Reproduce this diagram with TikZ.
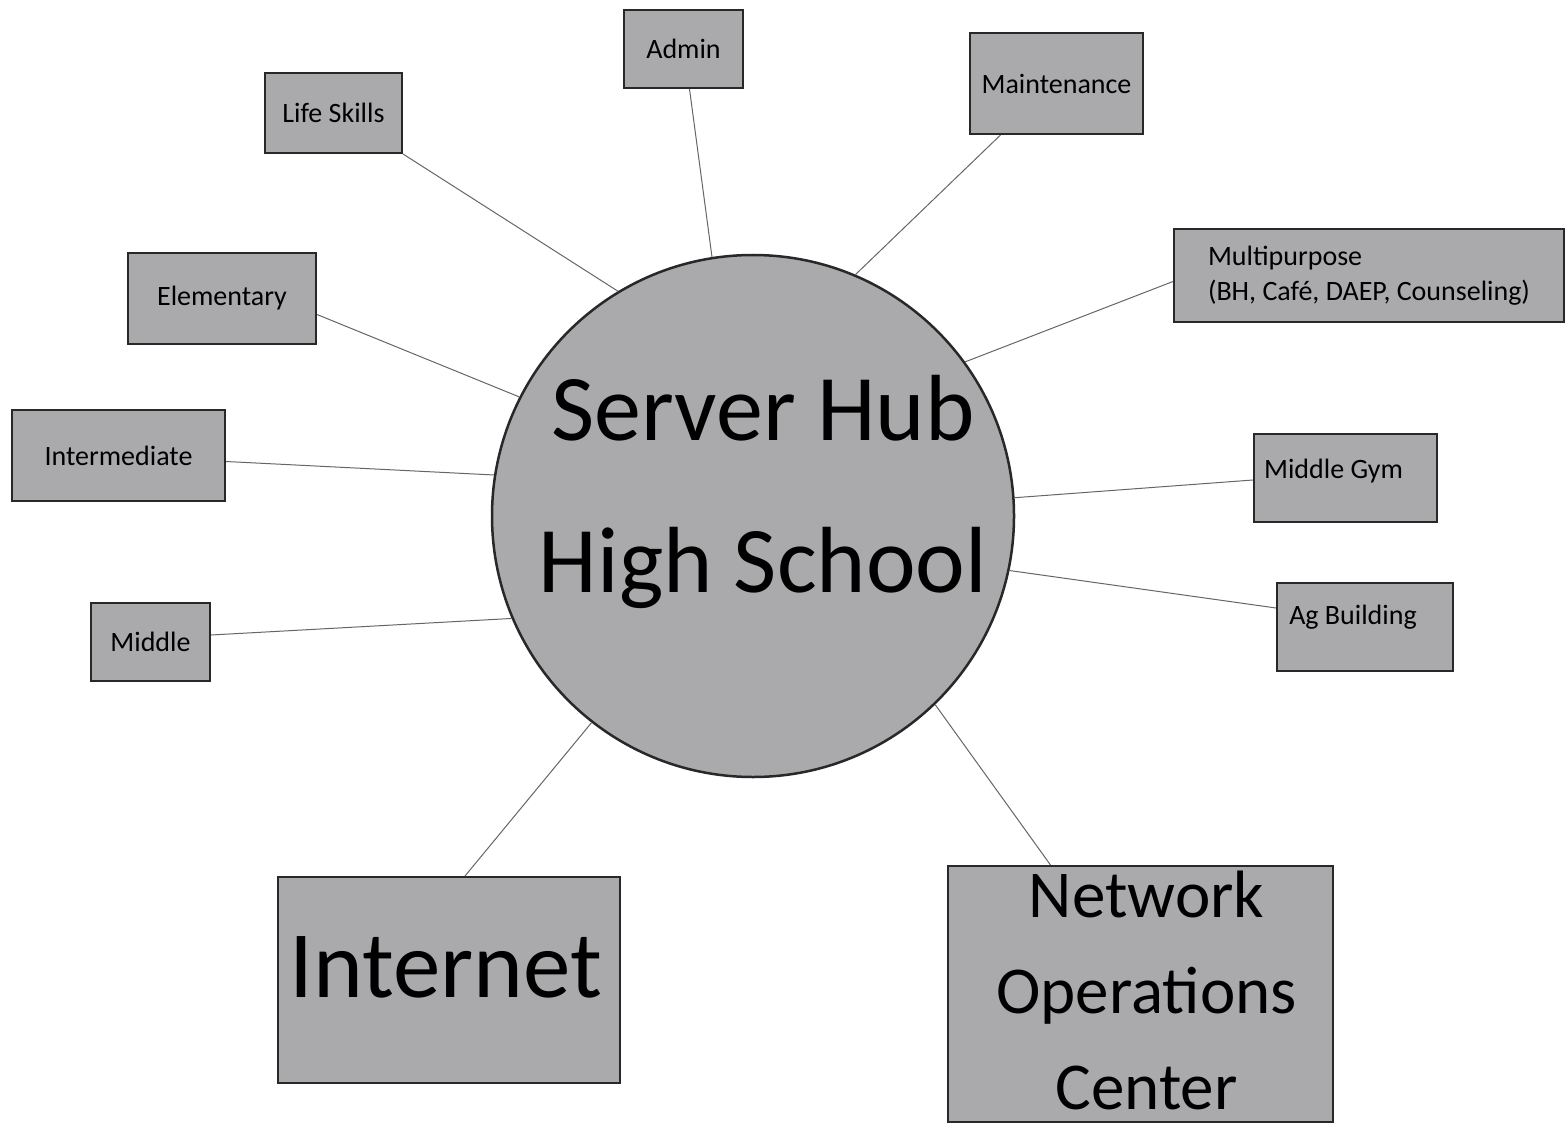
\documentclass[tikz,border=0pt]{standalone}
\usepackage{fontspec}
\setmainfont{Carlito}
\definecolor{boxgray}{RGB}{170,170,172}
\definecolor{edge}{RGB}{40,40,40}
\begin{document}
\begin{tikzpicture}[x=1pt,y=-1pt,
 site/.style={draw=edge,line width=2pt,fill=boxgray,inner sep=0pt,align=center,font=\fontsize{28}{35}\selectfont},
 link/.style={draw=black!60,line width=1pt}]
 \useasboundingbox[fill=white](0,0) rectangle (1565,1123);
 \node[circle,draw=edge,line width=2.5pt,fill=boxgray,minimum size=522pt,
   label={[align=center,xshift=10pt,yshift=24pt,font=\fontsize{94}{152}\selectfont]center:Server Hub\\High School}] (hub) at (753,516) {};
 \node[site,minimum width=119pt,minimum height=78pt] (admin) at (683.5,49) {Admin};
 \node[site,minimum width=173pt,minimum height=101pt] (maint) at (1056.5,83.5) {Maintenance};
 \node[site,minimum width=137pt,minimum height=80pt] (life) at (333.5,113) {Life Skills};
 \node[site,minimum width=188pt,minimum height=91pt] (elem) at (222,298.5) {Elementary};
 \node[site,minimum width=390pt,minimum height=93pt,align=left] (multi) at (1369,275.5) {Multipurpose\\(BH, Café, DAEP, Counseling)};
 \node[site,minimum width=213pt,minimum height=91pt] (inter) at (118.5,455.5) {Intermediate};
 \node[site,minimum width=183pt,minimum height=88pt,
   label={[xshift=-12pt,yshift=7pt,font=\fontsize{28}{35}\selectfont]center:Middle Gym}] (gym) at (1345.5,478) {};
 \node[site,minimum width=119pt,minimum height=78pt] (middle) at (150.5,642) {Middle};
 \node[site,minimum width=176pt,minimum height=88pt,
   label={[xshift=-12pt,yshift=10pt,font=\fontsize{28}{35}\selectfont]center:Ag Building}] (ag) at (1365,627) {};
 \node[site,minimum width=342pt,minimum height=206pt,
   label={[xshift=-3pt,yshift=13pt,font=\fontsize{95}{114}\selectfont]center:Internet}] (inet) at (449,980) {};
 \node[site,minimum width=385pt,minimum height=256pt,
   label={[align=center,xshift=6pt,yshift=4pt,font=\fontsize{67}{96}\selectfont]center:Network\\Operations\\Center}] (noc) at (1140.5,994) {};
 \draw[link] ([xshift=6pt]admin.south) -- (hub.99);
 \draw[link] ([xshift=-56pt]maint.south) -- (hub.67);
 \draw[link] (life.south east) -- (hub.121);
 \draw[link] ([yshift=-16pt]elem.east) -- (hub.153);
 \draw[link] ([yshift=-6pt]multi.west) -- (hub.36);
 \draw[link] ([yshift=-6pt]inter.east) -- (hub.171);
 \draw[link] ([yshift=-2pt]gym.west) -- (hub.4);
 \draw[link] ([yshift=7pt]middle.east) -- (hub.203);
 \draw[link] ([yshift=19pt]ag.west) -- (hub.-12);
 \draw[link] ([xshift=16pt]inet.north) -- (hub.232);
 \draw[link] ([xshift=-90pt]noc.north) -- (hub.-46);
\end{tikzpicture}
\end{document}
